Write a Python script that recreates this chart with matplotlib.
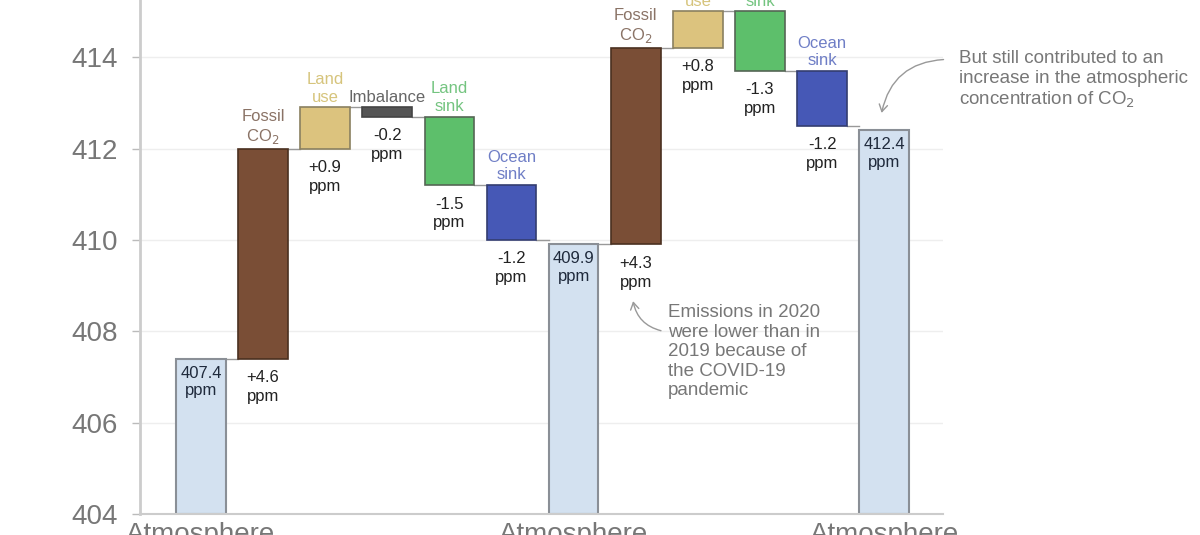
import matplotlib
matplotlib.use("Agg")
import matplotlib.pyplot as plt
from matplotlib.patches import FancyArrowPatch

plt.rcParams['font.family'] = ['Liberation Sans', 'DejaVu Sans']

# data
atm_years = ["2019", "2020", "2021"]
atm_values = [407.4, 409.9, 412.4]
flux_names_2020 = ["Fossil\nCO$_2$", "Land\nuse", "Imbalance", "Land\nsink", "Ocean\nsink"]
flux_values_2020 = [4.6, 0.9, -0.2, -1.5, -1.2]
flux_names_2021 = ["Fossil\nCO$_2$", "Land\nuse", "Land\nsink", "Ocean\nsink"]
flux_values_2021 = [4.3, 0.8, -1.3, -1.2]
y_ticks = [404, 406, 408, 410, 412, 414]

colours = {
  "Fossil": ("#7a4e36", "#4a3020", "#8a7366"),
  "Land\nuse": ("#dcc37e", "#8a8060", "#d6c47c"),
  "Imbalance": ("#555555", "#444444", "#666666"),
  "Land\nsink": ("#5dbf6b", "#556655", "#74c480"),
  "Ocean": ("#4658b6", "#333d70", "#6f7ec6"),
}
atm_fill = "#d3e1f0"
atm_edge = "#8a8f96"
width = 0.8

fig = plt.figure(figsize=(12, 5.35), dpi=100)
ax = fig.add_axes([0.1167, 0.039, 0.6693, 0.961])


def style_for(name):
  for key, val in colours.items():
    if name.startswith(key):
      return val
  return colours["Imbalance"]


pos = 0
xtick_pos = []
prev_level = None
prev_right = None
groups = [(flux_names_2020, flux_values_2020), (flux_names_2021, flux_values_2021), ([], [])]
for gi, (names, values) in enumerate(groups):
  level = atm_values[gi]
  # atmosphere bar
  if prev_level is not None:
    ax.plot([prev_right, pos - width / 2], [prev_level, prev_level], color="#999999", lw=1, zorder=1)
  ax.bar(pos, level - 404, bottom=404, width=width, color=atm_fill, edgecolor=atm_edge, lw=1.5, zorder=2)
  ax.text(pos, level - 0.15, f"{level:.1f}\nppm", ha="center", va="top", fontsize=12,
          color="#1f2a3c", linespacing=1.2, zorder=3)
  xtick_pos.append(pos)
  prev_level = level
  prev_right = pos + width / 2
  pos += 1
  for name, val in zip(names, values):
    fill, edge, txt = style_for(name)
    lo, hi = min(level, level + val), max(level, level + val)
    ax.plot([prev_right, pos - width / 2], [level, level], color="#999999", lw=1, zorder=1)
    ax.bar(pos, hi - lo, bottom=lo, width=width, color=fill, edgecolor=edge, lw=1.2, zorder=2)
    ax.text(pos, hi + 0.06, name, ha="center", va="bottom", fontsize=12, color=txt,
            linespacing=1.2, zorder=3, clip_on=False)
    ax.text(pos, lo - 0.25, f"{val:+.1f}\nppm", ha="center", va="top", fontsize=12,
            color="#222222", linespacing=1.3, zorder=3)
    level = level + val
    prev_level = level
    prev_right = pos + width / 2
    pos += 1

ax.set_xlim(-0.98, 11.95)
ax.set_ylim(404, 415.25)
ax.set_yticks(y_ticks)
ax.set_yticklabels([str(t) for t in y_ticks], fontsize=20, color="#777777")
ax.set_xticks(xtick_pos)
ax.set_xticklabels([f"Atmosphere\n{y}" for y in atm_years], fontsize=20, color="#777777")
ax.tick_params(axis="x", length=0, pad=6)
ax.tick_params(axis="y", length=6, width=1, color="#bbbbbb", pad=10)
ax.grid(axis="y", color="#eeeeee", lw=1, zorder=0)
ax.set_axisbelow(True)
for side in ["top", "right"]:
  ax.spines[side].set_visible(False)
ax.spines["left"].set_color("#cccccc")
ax.spines["left"].set_linewidth(2)
ax.spines["bottom"].set_color("#cccccc")
ax.spines["bottom"].set_linewidth(1.5)

ax.text(7.52, 408.6, "Emissions in 2020\nwere lower than in\n2019 because of\nthe COVID-19\npandemic",
        ha="left", va="top", fontsize=13.5, color="#777777", linespacing=1.2)
ax.add_patch(FancyArrowPatch((7.45, 408.0), (6.95, 408.72), connectionstyle="arc3,rad=-0.35",
                             arrowstyle="->,head_length=5,head_width=3", color="#999999", lw=1,
                             clip_on=False))

ax.text(12.21, 414.15, "But still contributed to an\nincrease in the atmospheric\nconcentration of CO$_2$",
        ha="left", va="top", fontsize=13.5, color="#777777", linespacing=1.2, clip_on=False)
ax.add_patch(FancyArrowPatch((12.0, 413.95), (10.95, 412.72), connectionstyle="arc3,rad=0.4",
                             arrowstyle="->,head_length=5,head_width=3", color="#999999", lw=1,
                             clip_on=False))

fig.savefig("out.png", dpi=100)
